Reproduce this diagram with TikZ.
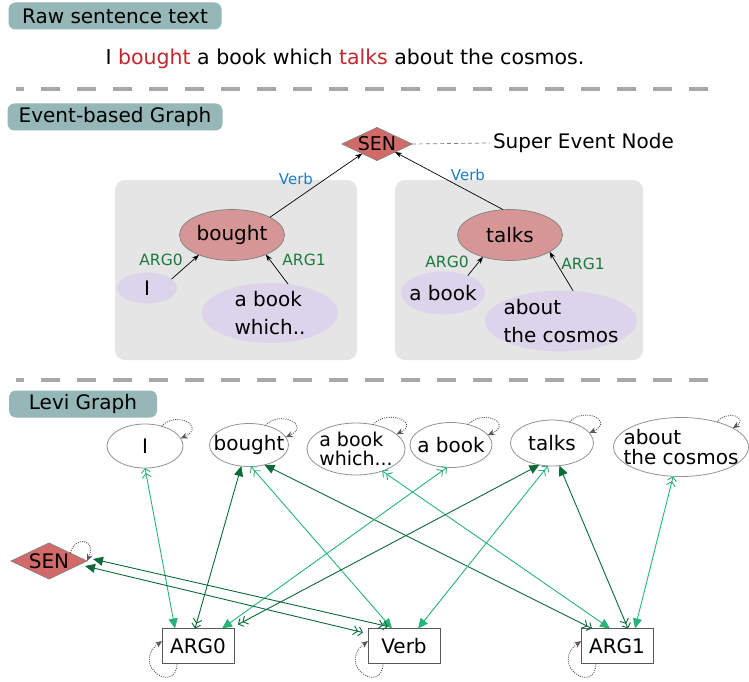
\documentclass[tikz,border=0pt]{standalone}
\usepackage{fontspec}
\setmainfont{DejaVu Sans}
\usetikzlibrary{shapes.geometric,arrows.meta,calc}
\definecolor{hdr}{HTML}{96B7B7}
\definecolor{sred}{HTML}{C1272D}
\definecolor{sepgray}{HTML}{A8A8A8}
\definecolor{panel}{HTML}{E5E5E5}
\definecolor{evred}{HTML}{D69696}
\definecolor{lav}{HTML}{DCD4EA}
\definecolor{argg}{HTML}{1B7A40}
\definecolor{verbb}{HTML}{1E7CC6}
\definecolor{senred}{HTML}{D26A6A}
\definecolor{lg}{HTML}{27B479}
\definecolor{dg}{HTML}{0A6A38}
\definecolor{loopc}{HTML}{5E5656}
\tikzset{
  dbl/.tip={Straight Barb[length=4pt,width=9pt] Straight Barb[length=4pt,width=9pt]},
  ftri/.tip={Triangle[length=10pt,width=9pt]},
}
\begin{document}
\begin{tikzpicture}[x=1pt,y=-1pt,
  every node/.style={inner sep=0pt,outer sep=0pt},
  hdrbox/.style={fill=hdr, rounded corners=7pt, minimum height=27pt, font=\fontsize{20}{23}\selectfont},
  sepline/.style={draw=sepgray, line width=4.5pt, dash pattern=on 19pt off 17pt, dash phase=11pt},
  panelbox/.style={fill=panel, rounded corners=10pt},
  evpred/.style={ellipse, draw=gray, fill=evred, line width=0.7pt},
  evarg/.style={ellipse, fill=lav},
  lbl/.style={label={[font=\fontsize{20}{24}\selectfont]center:#1}},
  lbltwo/.style={label={[font=\fontsize{20}{28}\selectfont, align=left]center:#1}},
  lblthree/.style={label={[font=\fontsize{19}{19}\selectfont, align=left]center:#1}},
  argtxt/.style={text=argg, font=\fontsize{15.5}{18}\selectfont},
  verbtxt/.style={text=verbb, font=\fontsize{15}{18}\selectfont},
  evarr/.style={draw=black, line width=0.7pt, -{Stealth[length=7pt,width=5pt]}},
  lvell/.style={ellipse, draw=gray!85, fill=white, line width=0.8pt},
  lvbox/.style={rectangle, draw=black!65, fill=white, line width=1pt, minimum width=72pt, minimum height=35pt, font=\fontsize{20}{24}\selectfont},
  sendia/.style={diamond, draw=gray, fill=senred, line width=0.7pt},
  lgedge/.style={draw=lg, line width=0.9pt, dbl-ftri},
  dgedge/.style={draw=dg, line width=0.9pt, ftri-dbl},
  selfloop/.style={draw=loopc, line width=0.9pt, dash pattern=on 1pt off 1.2pt, -{Stealth[length=7pt,width=6pt]}},
]
\useasboundingbox (0,0) rectangle (749,682);
\fill[white] (0,0) rectangle (749,682);

% ---------- Raw sentence ----------
\node[hdrbox, minimum width=213pt] (h1) at (115,16) {Raw sentence text};
\node[anchor=base, font=\fontsize{20.5}{24}\selectfont] (sent) at (345,65)
  {I \textcolor{sred}{bought} a book which \textcolor{sred}{talks} about the cosmos.};
\draw[sepline] (16,89) -- (720,89);

% ---------- Event-based graph ----------
\node[hdrbox, minimum width=215pt] (h2) at (115,117) {Event-based Graph};
\node[panelbox, minimum width=242pt, minimum height=180pt] (lpanel) at (236,270) {};
\node[panelbox, minimum width=248pt, minimum height=180pt] (rpanel) at (519,270) {};

\node[sendia, minimum width=70pt, minimum height=33pt,
      label={[font=\fontsize{19}{22}\selectfont]center:SEN}] (esen) at (377,144) {};
\node[anchor=west, font=\fontsize{20}{23}\selectfont] (snote) at (493,143) {Super Event Node};
\draw[gray, line width=0.7pt, dash pattern=on 4pt off 3pt] (esen.east) -- ([xshift=-3pt]snote.west);

\node[evpred, minimum width=105pt, minimum height=51pt, lbl={bought}] (ebought) at (232,235) {};
\node[evarg, minimum width=60pt, minimum height=31pt, lbl={I}] (eI) at (147,288) {};
\node[evarg, minimum width=136pt, minimum height=60pt, lbltwo={a book\\which..}] (ebw) at (270,313) {};

\node[evpred, minimum width=105pt, minimum height=51pt, lbl={talks}] (etalks) at (510,235) {};
\node[evarg, minimum width=84pt, minimum height=43pt, lbl={a book}] (eab) at (443,293) {};
\node[evarg, minimum width=152pt, minimum height=61pt, lbltwo={about\\the cosmos}] (ecos) at (561,321) {};

\draw[evarr] (eI.20) -- (ebought.-149);
\draw[evarr] (ebw.58) -- (ebought.-30);
\draw[evarr] (ebought.25) -- (esen.-147);
\draw[evarr] (eab.35) -- (etalks.-141);
\draw[evarr] (ecos.68) -- (etalks.-23);
\draw[evarr] (etalks.105) -- (esen.-24);

\node[argtxt] (la0) at (161,260) {ARG0};
\node[argtxt] (la1) at (304,260) {ARG1};
\node[verbtxt] (lv1) at (296,179) {Verb};
\node[argtxt] (ra0) at (447,262) {ARG0};
\node[argtxt] (ra1) at (583,264) {ARG1};
\node[verbtxt] (rv1) at (468,175) {Verb};

\draw[sepline] (16,380) -- (720,380);

% ---------- Levi graph ----------
\node[hdrbox, minimum width=148pt] (h3) at (83,404) {Levi Graph};

\node[lvell, minimum width=76pt, minimum height=44pt, lbl={I}] (lI) at (145,446) {};
\node[lvell, minimum width=79pt, minimum height=43pt, lbl={bought}] (lbought) at (249,445) {};
\node[lvell, minimum width=98pt, minimum height=52pt, lblthree={a book\\which...}] (lbw) at (356,449) {};
\node[lvell, minimum width=82pt, minimum height=45pt, lbl={a book}] (lab) at (451,445) {};
\node[lvell, minimum width=83pt, minimum height=46pt, lbl={talks}] (ltalks) at (552,443) {};
\node[lvell, minimum width=135pt, minimum height=59pt, label={[font=\fontsize{20}{20}\selectfont, align=left]center:about\\the cosmos}] (lcos) at (681,447) {};

\node[sendia, minimum width=76pt, minimum height=36pt, lbl={SEN}] (lsen) at (49,561) {};

\node[lvbox] (arg0) at (198,646) {ARG0};
\node[lvbox] (verb) at (404,646) {Verb};
\node[lvbox] (arg1) at (617,646) {ARG1};

% edges
\draw[lgedge] (lI.-90) -- ($(arg0.north west)+(13,0)$);
\draw[dgedge] (lbought.-110) -- ($(arg0.north west)+(33,0)$);
\draw[lgedge] (lbought.-85) -- ($(verb.north west)+(24,0)$);
\draw[dgedge] (lbought.-52) -- ($(arg1.north west)+(11,0)$);
\draw[lgedge] (lbw.-40) -- ($(arg1.north west)+(29,0)$);
\draw[lgedge] (lab.-100) -- ($(arg0.north west)+(60,0)$);
\draw[dgedge] (ltalks.-120) -- ($(arg0.north east)+(4,-4)$);
\draw[lgedge] (ltalks.-100) -- ($(verb.north west)+(50,0)$);
\draw[dgedge] (ltalks.-72) -- ($(arg1.north west)+(47,0)$);
\draw[lgedge] (lcos.-105) -- ($(arg1.north west)+(54,0)$);
\draw[dgedge] ($(lsen.east)+(6,-2)$) -- ($(verb.north west)+(20,-2)$);
\draw[dgedge] ($(lsen.east)+(-2,5)$) -- ($(verb.north west)+(-5,4)$);

% self loops
\draw[selfloop] (lI.50) .. controls +(14,-16) and +(26,-12) .. (lI.12);
\draw[selfloop] (lbought.50) .. controls +(14,-16) and +(26,-12) .. (lbought.12);
\draw[selfloop] (lbw.55) .. controls +(14,-16) and +(24,-12) .. (lbw.20);
\draw[selfloop] (lab.50) .. controls +(14,-16) and +(26,-12) .. (lab.15);
\draw[selfloop] (ltalks.50) .. controls +(14,-16) and +(26,-12) .. (ltalks.15);
\draw[selfloop] (lcos.35) .. controls +(12,-13) and +(15,-10) .. (lcos.20);
\draw[selfloop] (lsen.20) .. controls +(4,-18) and +(10,-22) .. (lsen.east);
\draw[selfloop] ($(arg0.south west)+(15,0)$) .. controls +(-1,32) and +(-32,24) .. ($(arg0.west)+(0,-5)$);
\draw[selfloop] ($(verb.south west)+(15,0)$) .. controls +(-1,32) and +(-32,24) .. ($(verb.west)+(0,-5)$);
\draw[selfloop] ($(arg1.south west)+(15,0)$) .. controls +(-1,32) and +(-32,24) .. ($(arg1.west)+(0,-5)$);
\end{tikzpicture}
\end{document}
